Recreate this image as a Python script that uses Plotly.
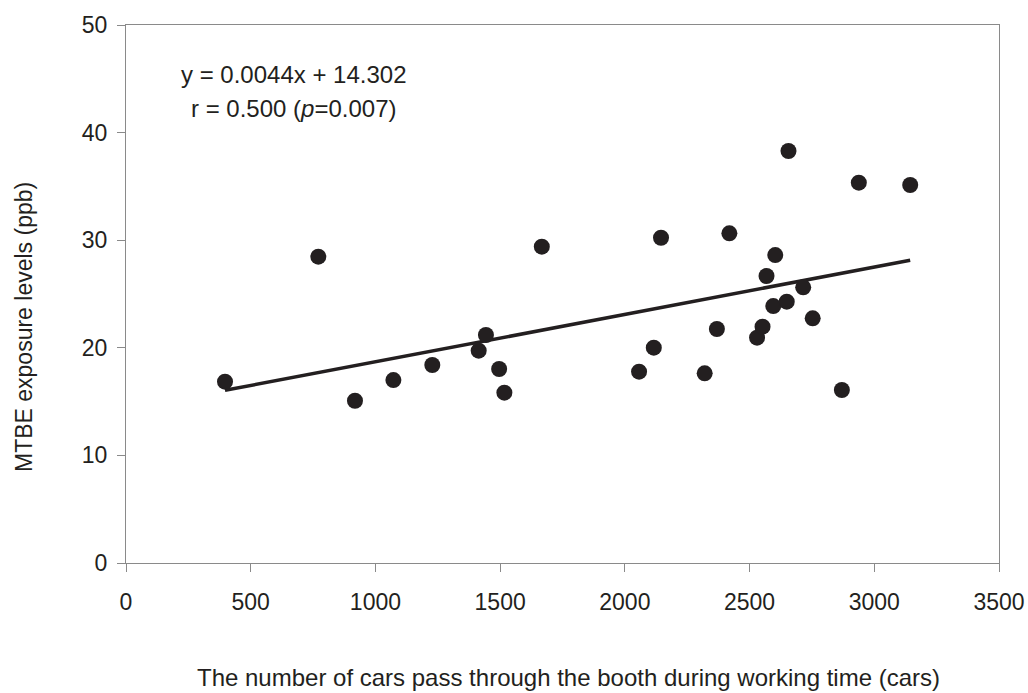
import plotly.graph_objects as go

# Data
cars = [397, 771, 918, 1072, 1228, 1414, 1443, 1496, 1517, 1667,
        2057, 2116, 2145, 2320, 2369, 2419, 2530, 2552, 2568, 2595,
        2603, 2649, 2656, 2715, 2753, 2870, 2938, 3144]
mtbe = [16.85, 28.47, 15.08, 17.0, 18.4, 19.73, 21.19, 18.03, 15.83, 29.4,
        17.78, 20.01, 30.23, 17.63, 21.75, 30.64, 20.94, 21.96, 26.67, 23.88,
        28.62, 24.29, 38.29, 25.62, 22.74, 16.08, 35.35, 35.13]

slope = 0.0044
intercept = 14.302
eq_lines = ["y = 0.0044x + 14.302", "r = 0.500 (<i>p</i>=0.007)"]

x_ticks = [0, 500, 1000, 1500, 2000, 2500, 3000, 3500]
y_ticks = [0, 10, 20, 30, 40, 50]

x_title = "The number of cars pass through the booth during working time (cars)"
y_title = "MTBE exposure levels (ppb)"

FONT = "Liberation Sans, Arial, sans-serif"
INK = "#231f20"
AXIS = "#8a8a8a"

fit_x = sorted(cars)
fit_y = [slope * v + intercept for v in fit_x]

fig = go.Figure()
fig.add_trace(go.Scatter(
    x=fit_x, y=fit_y, mode="lines",
    line=dict(color=INK, width=3.5), hoverinfo="skip", showlegend=False))
fig.add_trace(go.Scatter(
    x=cars, y=mtbe, mode="markers",
    marker=dict(color=INK, size=16, line=dict(width=0)), showlegend=False))

W, H = 1028, 693
L, T = 126, 25
R = W - 999
B = H - 563
pw, ph = W - L - R, H - T - B


def px(xw):
    return (xw - L) / pw


def py(yw):
    return (H - B - yw) / ph


fig.update_layout(
    width=W, height=H,
    margin=dict(l=L, r=R, t=T, b=B, pad=0, autoexpand=False),
    paper_bgcolor="white", plot_bgcolor="white",
    font=dict(family=FONT, size=23, color=INK),
    showlegend=False,
)
fig.update_xaxes(
    range=[0, 3500], tickvals=x_ticks, ticktext=[str(v) for v in x_ticks],
    showgrid=False, zeroline=False, automargin=False,
    showline=True, linecolor=AXIS, linewidth=1, mirror=True,
    ticks="outside", ticklen=8, tickcolor=AXIS, tickwidth=1,
    ticklabelstandoff=10, ticklabeloverflow="allow",
    tickfont=dict(family=FONT, size=23, color=INK),
)
fig.update_yaxes(
    range=[0, 50], tickvals=y_ticks, ticktext=[str(v) for v in y_ticks],
    showgrid=False, zeroline=False, automargin=False,
    showline=True, linecolor=AXIS, linewidth=1, mirror=True,
    ticks="outside", ticklen=8, tickcolor=AXIS, tickwidth=1,
    ticklabelstandoff=5, ticklabeloverflow="allow",
    tickfont=dict(family=FONT, size=23, color=INK),
)

# axis titles as positioned annotations
fig.add_annotation(
    text=x_title, xref="paper", yref="paper",
    x=px(568), y=py(677),
    xanchor="center", yanchor="middle", showarrow=False,
    font=dict(family=FONT, size=24, color=INK))
fig.add_annotation(
    text=y_title, xref="paper", yref="paper", textangle=-90,
    x=px(24), y=py(327),
    xanchor="center", yanchor="middle", showarrow=False,
    font=dict(family=FONT, size=23, color=INK))

# equation text
for txt, cy in zip(eq_lines, [75, 109]):
    fig.add_annotation(
        text=txt, xref="paper", yref="paper",
        x=px(294), y=py(cy),
        xanchor="center", yanchor="middle", showarrow=False,
        font=dict(family=FONT, size=24, color=INK))

fig.write_html(
    "out.html",
    config={"displayModeBar": False},
    post_script="document.body.style.margin='0';document.body.style.overflow='hidden';",
)
